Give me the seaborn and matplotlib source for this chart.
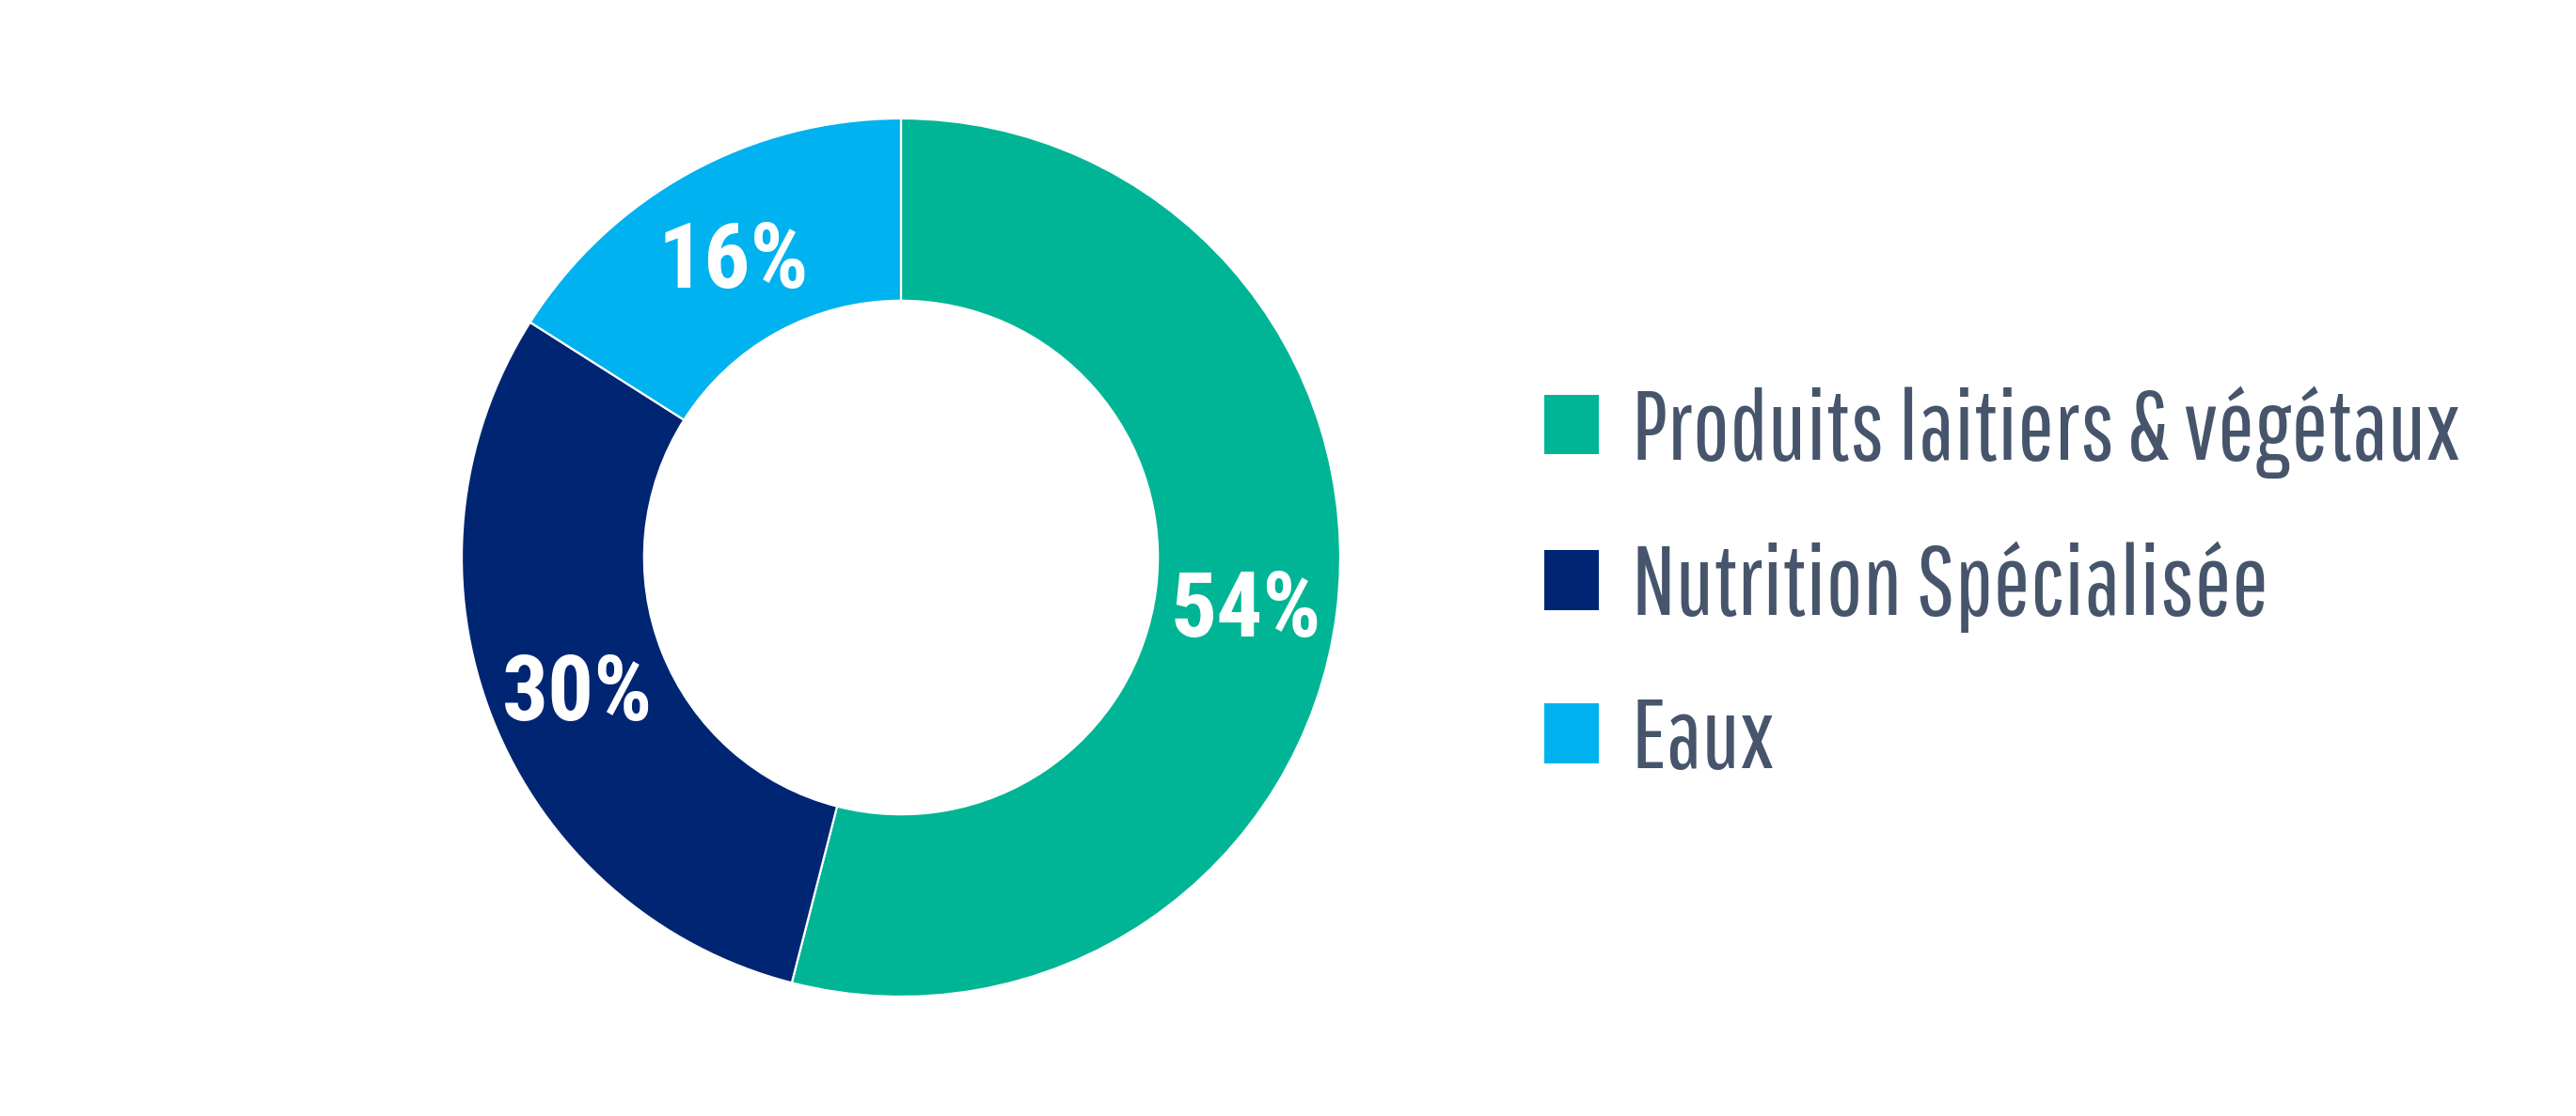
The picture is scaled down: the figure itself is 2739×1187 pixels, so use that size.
import matplotlib
matplotlib.use("Agg")
import matplotlib.pyplot as plt
import seaborn as sns

# data
segments = ["Produits laitiers & végétaux", "Nutrition Spécialisée", "Eaux"]
shares = [54, 30, 16]
colors = ["#00b595", "#002673", "#00b2ef"]

sns.set_theme(style="white")
plt.rcParams['font.family'] = ['Roboto Condensed', 'DejaVu Sans']

W, H = 2739, 1187
fig = plt.figure(figsize=(W / 100, H / 100), dpi=100)
fig.patch.set_facecolor("white")

# donut: centre (958, 593) px, radius 467 px
R = 467
cx, cy = 958, H - 593
ax = fig.add_axes([(cx - R) / W, (cy - R) / H, 2 * R / W, 2 * R / H])

wedges, _, autotexts = ax.pie(
    shares,
    colors=sns.color_palette(colors),
    startangle=90,
    counterclock=False,
    radius=1,
    autopct=lambda p: f"{p:.0f}%",
    pctdistance=0.792,
    wedgeprops=dict(width=0.415, edgecolor="white", linewidth=1.6),
)
for t in autotexts:
    t.set_color("white")
    t.set_fontsize(70)
    t.set_fontweight("bold")
    t.set_family(["Roboto Condensed", "DejaVu Sans"])
    x, y = t.get_position()
    t.set_position((x, y - 0.024))  # optical centring

ax.set_xlim(-1, 1)
ax.set_ylim(-1, 1)
ax.set_aspect("equal")
ax.axis("off")

leg = fig.legend(
    wedges, segments,
    loc="center left",
    bbox_to_anchor=(1642 / W, 1 - 623 / H),
    frameon=False,
    prop=dict(family=["Pathway Gothic One", "DejaVu Sans"], size=75),
    handlelength=0.56,
    handleheight=0.56,
    handletextpad=0.33,
    labelspacing=0.64,
    borderpad=0,
    borderaxespad=0,
)
for txt in leg.get_texts():
    txt.set_color("#46556b")
for h in leg.legend_handles:
    h.set_edgecolor("none")

fig.savefig("out.png", dpi=100, facecolor="white")
